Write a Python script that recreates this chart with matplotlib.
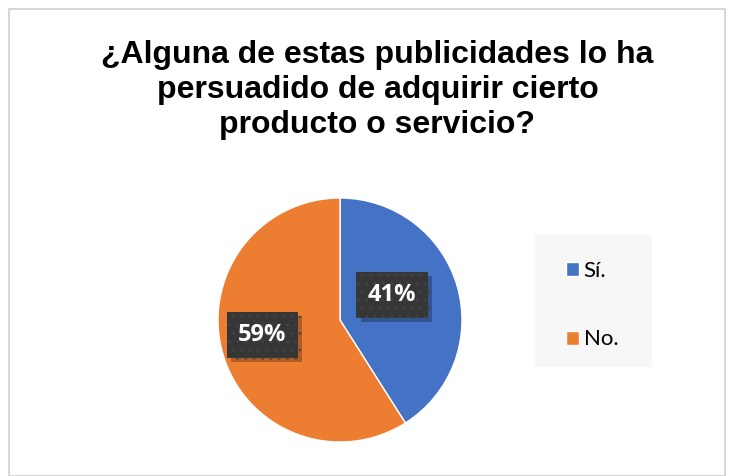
import matplotlib.pyplot as plt
import matplotlib.patheffects as pe
from matplotlib.patches import Rectangle
import numpy as np

labels = ['Sí.', 'No.']
values = [41, 59]
colors = ['#4472C4', '#ED7D31']
title = '¿Alguna de estas publicidades lo ha\npersuadido de adquirir cierto\nproducto o servicio?'

W, H = 730, 476
fig = plt.figure(figsize=(W / 100, H / 100), dpi=100)
plt.rcParams['hatch.linewidth'] = 0.7

# chart frame
fig.patches.append(Rectangle((9 / W, 0), 716 / W, 467 / H, transform=fig.transFigure,
                             facecolor='none', edgecolor='#D0D0D0', lw=1.2, zorder=-2))

fig.text(0.517, 1 - 90 / H, title, ha='center', va='center', fontsize=23, fontweight='bold',
         family='Liberation Sans', linespacing=1.2, color='black')

# legend background
fig.patches.append(Rectangle((535 / W, (476 - 367) / H), 117 / W, 132 / H, transform=fig.transFigure,
                             facecolor='#F7F7F7', edgecolor='none', zorder=-1))

# pie
cx, cy, r = 340, 476 - 320, 122
ax = fig.add_axes([(cx - r) / W, (cy - r) / H, 2 * r / W, 2 * r / H])
wedges, _ = ax.pie(values, colors=colors, startangle=90, counterclock=False,
                   wedgeprops=dict(edgecolor='white', linewidth=1))
ax.set_xlim(-1, 1)
ax.set_ylim(-1, 1)

# data labels (radius and angle shift from wedge middle)
label_r = [0.473, 0.65]
label_shift = [9.5, -5.3]
for w, v, lr, sh in zip(wedges, values, label_r, label_shift):
    ang = np.deg2rad((w.theta1 + w.theta2) / 2 + sh)
    x, y = lr * np.cos(ang), lr * np.sin(ang)
    t = ax.text(x, y, '%d%%' % v, ha='center', va='center', fontsize=17,
                fontweight='bold', family='Open Sans', color='white',
                bbox=dict(boxstyle='square,pad=0.48', facecolor='#363636', edgecolor='#454545',
                          linewidth=0, hatch='..'))
    t.get_bbox_patch().set_path_effects([
        pe.SimplePatchShadow(offset=(3, -3), shadow_rgbFace='black', alpha=0.25), pe.Normal()])

# legend
leg = fig.legend(wedges, labels, loc='center left', bbox_to_anchor=(546 / W, (476 - 305) / H),
                 frameon=False, prop={'family': 'Lato', 'size': 16},
                 handlelength=0.6, handleheight=0.6, handletextpad=0.2, labelspacing=2.2)

fig.savefig('out.png', dpi=100)
